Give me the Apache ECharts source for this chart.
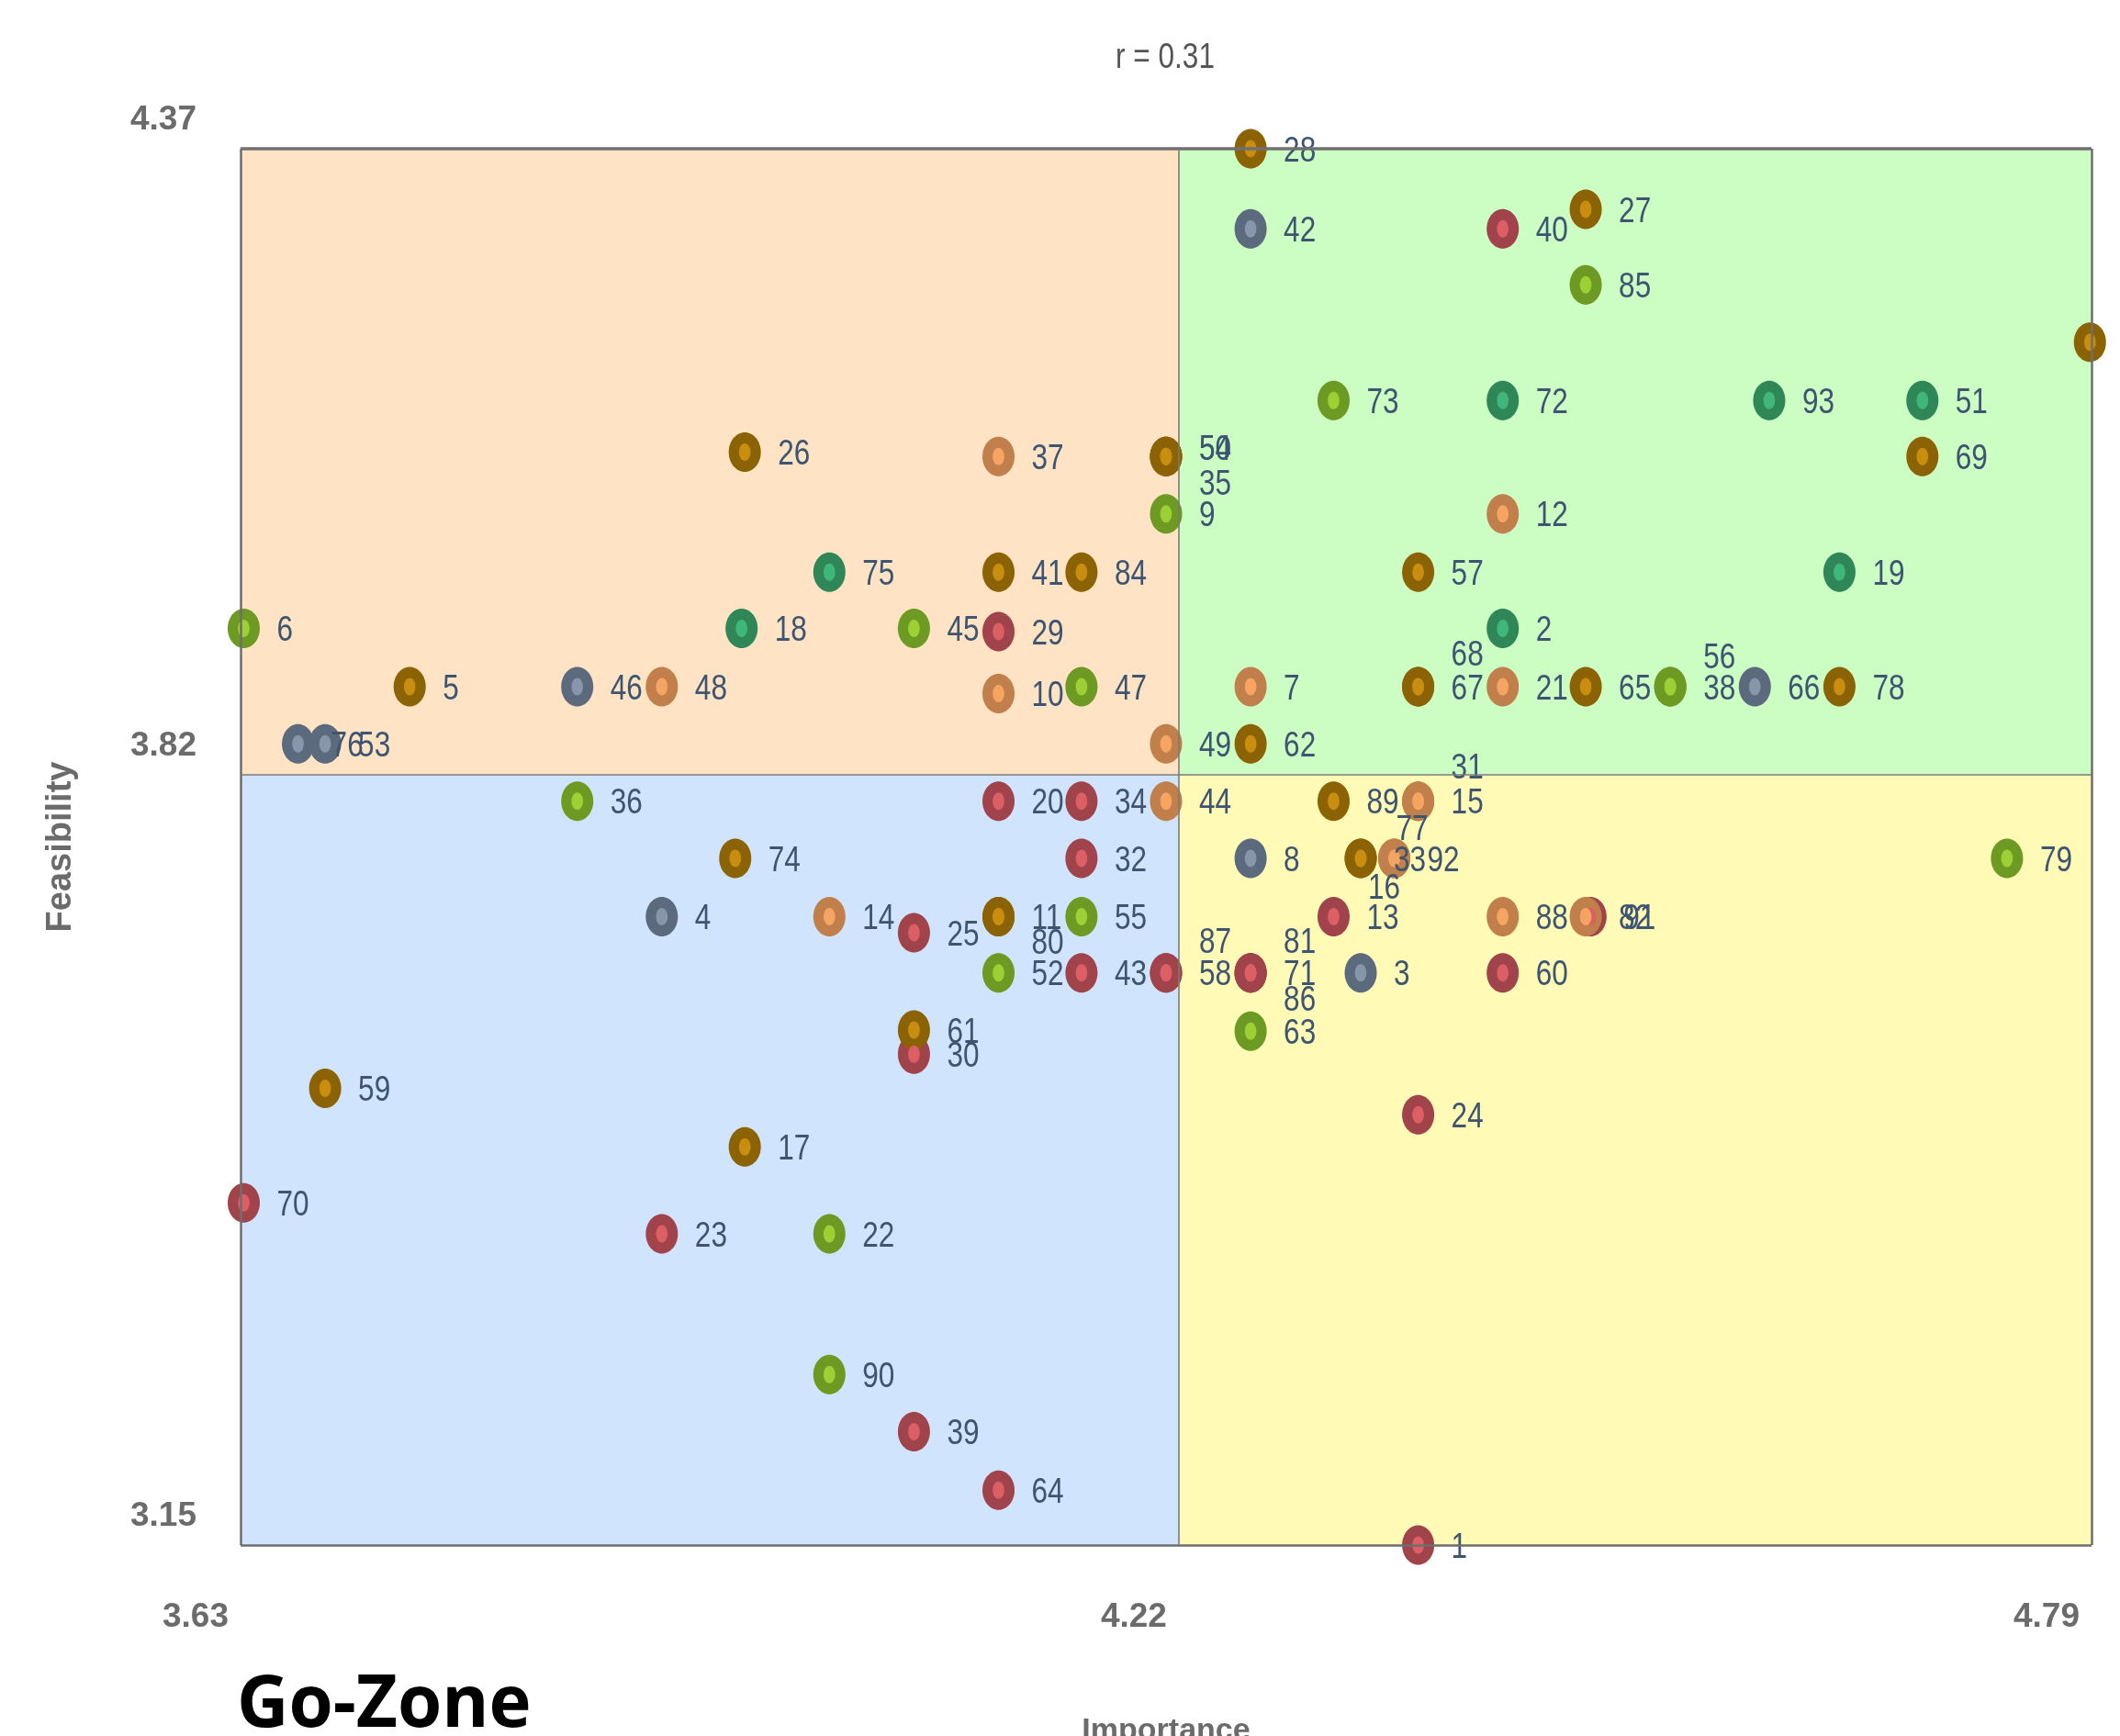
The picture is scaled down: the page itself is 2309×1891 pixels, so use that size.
<!DOCTYPE html>
<html>
<head>
<meta charset="utf-8">
<style>
  html, body { margin: 0; padding: 0; background: #ffffff; }
  #chart { width: 2309px; height: 1891px; }
</style>
<script src="https://cdn.jsdelivr.net/npm/echarts@6/dist/echarts.min.js"></script>
</head>
<body>
<div id="chart"></div>
<script>
// ---------------- DATA ----------------
const ids = [1,2,3,4,5,6,7,8,9,10,11,12,13,14,15,16,17,18,19,20,21,22,23,24,25,26,27,28,29,30,
  31,32,33,34,35,36,37,38,39,40,41,42,43,44,45,46,47,48,49,50,51,52,53,54,55,56,57,58,59,60,
  61,62,63,64,65,66,67,68,69,70,71,72,73,74,75,76,77,78,79,80,81,82,83,84,85,86,87,88,89,90,
  91,92,93];

const importance = [4.368,4.421,4.332,3.894,3.736,3.632,4.263,4.263,4.210,4.105,
  4.105,4.421,4.315,3.999,4.368,4.332,3.946,3.944,4.632,4.105,
  4.421,3.999,3.894,4.368,4.052,3.946,4.473,4.263,4.105,4.052,
  4.368,4.157,4.332,4.157,4.210,3.841,4.105,4.526,4.052,4.421,
  4.105,4.263,4.157,4.210,4.052,3.841,4.157,3.894,4.210,4.210,
  4.684,4.105,3.683,4.210,4.157,4.526,4.368,4.210,3.683,4.421,
  4.052,4.263,4.263,4.105,4.473,4.579,4.368,4.368,4.684,3.632,
  4.263,4.421,4.315,3.940,3.999,3.666,4.353,4.632,4.737,4.105,
  4.263,4.473,4.789,4.157,4.473,4.263,4.210,4.421,4.315,3.999,
  4.476,4.353,4.588];

const feasibility = [3.150,3.951,3.650,3.699,3.900,3.951,3.900,3.750,4.051,3.894,
  3.699,4.051,3.699,3.699,3.800,3.750,3.498,3.951,4.000,3.800,
  3.900,3.422,3.422,3.526,3.685,4.105,4.317,4.370,3.948,3.579,
  3.800,3.750,3.750,3.800,4.101,3.800,4.101,3.900,3.249,4.300,
  4.000,4.300,3.650,3.800,3.951,3.900,3.900,3.900,3.850,4.101,
  4.150,3.650,3.850,4.101,3.699,3.900,4.000,3.650,3.549,3.650,
  3.600,3.850,3.599,3.198,3.900,3.900,3.900,3.900,4.101,3.449,
  3.650,4.150,4.150,3.750,4.000,3.850,3.750,3.900,3.750,3.699,
  3.650,3.699,4.201,4.000,4.251,3.650,3.650,3.699,3.800,3.299,
  3.699,3.750,4.150];

// cluster of each statement (same order as ids)
const cluster = ['R','T','G','G','B','L','O','G','L','O',
  'B','O','R','O','O','B','B','T','T','R',
  'O','L','R','R','R','B','B','B','R','R',
  'O','R','B','R','B','L','O','L','R','R',
  'B','G','R','O','L','G','L','O','O','B',
  'T','L','G','B','L','L','B','R','B','R',
  'B','B','L','R','B','G','B','B','B','R',
  'R','T','L','B','T','G','O','B','L','B',
  'R','O','B','B','L','R','R','O','B','L',
  'R','O','T'];

const xTicks = [3.63, 4.218, 4.79];   // min, mean (shown as 4.22), max importance
const yTicks = [3.15, 3.823, 4.37];   // min, mean (shown as 3.82), max feasibility
const corrText = 'r = 0.31';

// ---------------- STYLE (not data) ----------------
const clusterOrder = ['R','G','T','L','B','O'];
const clusterStyle = {
  R: { outer: '#a0434b', inner: '#dc5f66' },
  G: { outer: '#5b6a7c', inner: '#8796ab' },
  T: { outer: '#2f8758', inner: '#40b77a' },
  L: { outer: '#6d9a23', inner: '#9dd034' },
  B: { outer: '#8c6304', inner: '#c98d10' },
  O: { outer: '#c07f4b', inner: '#f5a462' }
};
// label nudges (px) for overlapping labels
const labelNudge = {
  68: [0, -37], 56: [0, -34], 31: [0, -38], 77: [-34, -34], 16: [-28, 30],
  80: [0, 27], 87: [0, -35], 81: [0, -35], 86: [0, 28],
  50: [0, -10], 54: [0, -10], 35: [0, 28]
};
const SQUEEZE = 0.81;          // the original picture is horizontally condensed
const SANS = '"Liberation Sans", Arial, Helvetica, sans-serif';

const xMin = xTicks[0], xMean = xTicks[1], xMax = xTicks[2];
const yMin = yTicks[0], yMean = yTicks[1], yMax = yTicks[2];

function makeRenderer(c) {
  const st = clusterStyle[c];
  return function (params, api) {
    const p = api.coord([api.value(0), api.value(1)]);
    const id = api.value(2);
    const nud = labelNudge[id] || [0, 0];
    return {
      type: 'group',
      children: [
        { type: 'ellipse', z2: 1, shape: { cx: p[0], cy: p[1], rx: 17.5, ry: 21.5 },
          style: { fill: st.outer } },
        { type: 'ellipse', z2: 2, shape: { cx: p[0], cy: p[1], rx: 6.3, ry: 9.5 },
          style: { fill: st.inner } },
        { type: 'text', z2: 100, x: p[0] + 36 + nud[0], y: p[1] + 3 + nud[1], scaleX: SQUEEZE,
          style: { text: String(id), fill: '#3e5571', font: '39px ' + SANS,
                   align: 'left', verticalAlign: 'middle' } }
      ]
    };
  };
}

const pointSeries = clusterOrder.map(function (c) {
  const data = [];
  ids.forEach(function (id, i) {
    if (cluster[i] === c) data.push([importance[i], feasibility[i], id]);
  });
  return {
    type: 'custom',
    name: c,
    z: 3,
    clip: false,
    silent: true,
    encode: { x: 0, y: 1 },
    renderItem: makeRenderer(c),
    data: data
  };
});

const lineStyleEdge = { color: '#6e6e6e', width: 2.5, type: 'solid' };
const lineStyleTop = { color: '#707070', width: 3.5, type: 'solid' };
const lineStyleMid = { color: '#7a7a7a', width: 1.6, type: 'solid' };

const bgSeries = {
  type: 'scatter',
  name: 'bg',
  z: 1,
  silent: true,
  data: [],
  markArea: {
    silent: true,
    label: { show: false },
    data: [
      [{ coord: [xMin, yMean], itemStyle: { color: '#fee3c4' } }, { coord: [xMean, yMax] }],
      [{ coord: [xMean, yMean], itemStyle: { color: '#ccfdc3' } }, { coord: [xMax, yMax] }],
      [{ coord: [xMin, yMin], itemStyle: { color: '#d0e5fd' } }, { coord: [xMean, yMean] }],
      [{ coord: [xMean, yMin], itemStyle: { color: '#fffab6' } }, { coord: [xMax, yMean] }]
    ]
  },
  markLine: {
    silent: true,
    symbol: ['none', 'none'],
    label: { show: false },
    lineStyle: { type: 'solid' },
    animation: false,
    data: [
      [{ coord: [xMin, yMin], lineStyle: lineStyleEdge }, { coord: [xMax, yMin] }],
      [{ coord: [xMin, yMax], lineStyle: lineStyleTop }, { coord: [xMax, yMax] }],
      [{ coord: [xMin, yMin], lineStyle: lineStyleEdge }, { coord: [xMin, yMax] }],
      [{ coord: [xMax, yMin], lineStyle: lineStyleEdge }, { coord: [xMax, yMax] }],
      [{ coord: [xMean, yMin], lineStyle: lineStyleMid }, { coord: [xMean, yMax] }],
      [{ coord: [xMin, yMean], lineStyle: lineStyleMid }, { coord: [xMax, yMean] }]
    ]
  }
};

const chart = echarts.init(document.getElementById('chart'), null, { renderer: 'canvas' });
chart.setOption({
  animation: false,
  backgroundColor: '#ffffff',
  tooltip: { show: false },
  grid: { left: 262, right: 31, top: 162, bottom: 208, containLabel: false, outerBoundsMode: 'none' },
  xAxis: {
    type: 'value',
    min: xMin,
    max: xMax,
    name: 'Importance',
    nameLocation: 'middle',
    nameGap: 186,
    nameTextStyle: { fontSize: 34, fontWeight: 'bold', color: '#6b6b6b', fontFamily: SANS },
    axisLine: { show: false },
    axisTick: { show: false },
    splitLine: { show: false },
    axisLabel: {
      customValues: xTicks,
      formatter: function (v) { return v.toFixed(2); },
      fontSize: 37,
      fontWeight: 'bold',
      color: '#6b6b6b',
      fontFamily: SANS,
      margin: 60,
      align: 'right',
      padding: [0, 13, 0, 0]
    }
  },
  yAxis: {
    type: 'value',
    min: yMin,
    max: yMax,
    name: 'Feasibility',
    nameLocation: 'middle',
    nameGap: 176,
    nameTextStyle: { fontSize: 38, fontWeight: 'bold', color: '#6b6b6b', fontFamily: SANS },
    axisLine: { show: false },
    axisTick: { show: false },
    splitLine: { show: false },
    axisLabel: {
      customValues: yTicks,
      formatter: function (v) { return v.toFixed(2); },
      fontSize: 37,
      fontWeight: 'bold',
      color: '#6b6b6b',
      fontFamily: SANS,
      margin: 48,
      verticalAlign: 'bottom',
      padding: [0, 0, 13, 0]
    }
  },
  graphic: [{
    type: 'text',
    x: 1269,
    y: 63,
    scaleX: SQUEEZE,
    silent: true,
    style: {
      text: corrText,
      font: '39px ' + SANS,
      fill: '#555555',
      align: 'center',
      verticalAlign: 'middle'
    }
  }, {
    type: 'text',
    x: 258,
    y: 1859,
    silent: true,
    style: {
      text: 'Go-Zone',
      font: 'bold 78px "Open Sans", "Noto Sans", sans-serif',
      fill: '#000000',
      align: 'left',
      verticalAlign: 'middle'
    }
  }],
  series: [bgSeries].concat(pointSeries)
});
</script>
</body>
</html>
